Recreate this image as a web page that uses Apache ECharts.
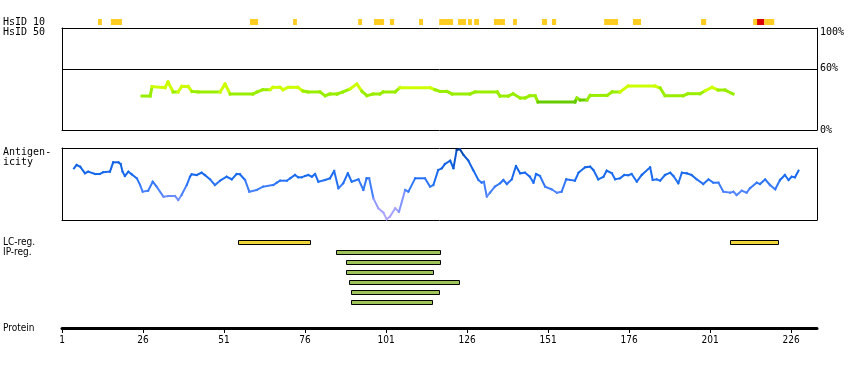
<!DOCTYPE html>
<html><head><meta charset="utf-8">
<script src="https://cdn.jsdelivr.net/npm/echarts@6/dist/echarts.min.js"></script>
<style>html,body{margin:0;padding:0;background:#fff}#c{width:850px;height:370px}</style>
</head><body><div id="c"></div>
<script>
// ---- data ----
var proteinLength = 234;
var tickValues = [1, 26, 51, 76, 101, 126, 151, 176, 201, 226];
var identityTicks = [0, 60, 100];

// HsID 10 strip: segment start / end residue, level (0 = yellow, 1 = red)
var hsidStart = [12.1, 16.1, 59.0, 72.3, 92.4, 97.3, 102.2, 111.2, 117.4, 123.2, 126.3, 128.2, 134.3, 140.2, 149.1, 152.2, 168.3, 177.2, 198.2, 214.3, 215.5, 217.7];
var hsidEnd   = [13.3, 19.5, 61.5, 73.5, 93.6, 100.4, 103.5, 112.4, 121.7, 125.7, 127.5, 129.7, 137.7, 141.4, 150.7, 153.5, 172.6, 179.7, 199.8, 215.5, 217.7, 220.8];
var hsidLevel = [0, 0, 0, 0, 0, 0, 0, 0, 0, 0, 0, 0, 0, 0, 0, 0, 0, 0, 0, 0, 1, 0];

// HsID 50 identity (%)
var identityRes = [25.7, 28.2, 28.8, 32.8, 33.7, 35.3, 36.8, 38.0, 39.9, 41.1, 43.0, 49.8, 51.3, 52.9, 59.9, 61.2, 63.0, 65.2, 66.1, 68.3, 69.2, 70.8, 73.8, 75.4, 76.9, 80.6, 82.2, 83.7, 85.9, 87.7, 89.9, 92.0, 93.6, 95.1, 97.0, 99.1, 100.1, 103.8, 105.3, 114.6, 116.1, 117.7, 119.8, 121.4, 126.9, 128.5, 135.3, 136.2, 138.7, 140.2, 142.4, 143.9, 145.4, 147.0, 147.9, 159.3, 159.9, 160.9, 163.0, 164.0, 169.2, 170.8, 173.2, 175.7, 184.0, 185.6, 187.1, 192.7, 194.2, 197.9, 199.5, 201.6, 203.5, 205.6, 208.1];
var identityVal = [33.3, 33.3, 42.5, 41.5, 47.1, 37.3, 37.3, 42.7, 42.7, 37.8, 37.3, 37.3, 45.1, 35.3, 35.3, 37.3, 39.5, 39.5, 41.8, 41.8, 39.5, 41.8, 41.8, 38.2, 37.3, 37.3, 33.6, 35.3, 35.3, 37.3, 40.2, 45.1, 37.8, 33.6, 35.3, 35.3, 37.3, 37.3, 41.5, 41.5, 39.5, 37.8, 37.8, 35.3, 35.3, 37.3, 37.3, 33.3, 33.3, 35.6, 31.4, 31.4, 33.6, 33.6, 27.5, 27.5, 31.4, 29.4, 29.4, 33.9, 33.9, 37.3, 37.3, 43.1, 43.1, 41.2, 33.6, 33.6, 35.6, 35.6, 38.5, 41.8, 39.2, 39.2, 35.3];

// Antigenicity (relative, 0-100)
var antiRes = [4.7, 5.5, 6.6, 8.1, 9.1, 11.2, 12.7, 13.7, 15.8, 16.8, 18.4, 19.1, 19.7, 20.4, 21.5, 22.5, 24.1, 25.1, 25.9, 27.6, 29.0, 30.2, 32.3, 33.8, 35.9, 36.9, 37.9, 39.5, 40.5, 41.0, 42.6, 44.1, 45.1, 46.7, 48.2, 49.8, 51.8, 53.4, 54.9, 55.9, 57.5, 58.8, 61.1, 63.1, 66.2, 67.3, 68.3, 70.4, 71.4, 72.9, 73.9, 75.0, 76.0, 77.0, 78.1, 79.1, 80.1, 82.2, 83.7, 85.0, 86.3, 87.8, 89.2, 90.4, 92.5, 94.0, 95.0, 95.8, 97.1, 98.6, 100.2, 101.2, 102.2, 103.8, 105.0, 106.9, 107.9, 110.0, 113.0, 114.6, 115.6, 117.1, 118.2, 119.2, 120.8, 121.8, 122.8, 123.8, 124.9, 126.4, 127.9, 129.5, 130.5, 131.2, 132.1, 133.1, 134.6, 136.2, 137.2, 138.3, 139.8, 141.1, 142.4, 143.9, 145.4, 146.5, 147.3, 148.5, 150.1, 152.1, 153.7, 155.2, 156.6, 157.8, 159.3, 160.4, 162.4, 164.0, 165.0, 166.5, 168.1, 169.1, 170.7, 171.7, 173.2, 174.5, 175.8, 176.8, 178.4, 179.9, 182.5, 183.3, 184.5, 185.6, 187.1, 188.7, 189.7, 191.2, 192.3, 193.8, 195.3, 196.9, 198.9, 200.5, 202.0, 203.6, 205.1, 207.2, 208.2, 209.2, 210.8, 212.3, 213.3, 215.4, 216.4, 218.0, 219.5, 221.1, 222.6, 224.1, 225.2, 226.2, 227.2, 228.3];
var antiVal = [71.8, 76.4, 74.0, 64.9, 67.1, 63.9, 63.9, 66.3, 67.1, 80.1, 80.1, 77.8, 67.1, 61.1, 67.1, 63.5, 57.9, 48.6, 39.3, 40.7, 53.2, 46.3, 32.4, 33.3, 33.3, 27.8, 34.7, 48.6, 60.1, 63.5, 62.5, 65.7, 62.5, 56.5, 48.6, 54.6, 60.1, 56.5, 63.9, 63.5, 55.6, 39.3, 41.7, 46.3, 48.6, 51.8, 54.6, 54.6, 57.9, 62.5, 59.3, 59.3, 61.1, 62.5, 60.1, 63.9, 53.2, 55.6, 57.9, 68.1, 44.0, 51.0, 64.9, 53.2, 56.5, 41.7, 57.9, 57.9, 30.1, 16.3, 10.1, 1.0, 4.6, 16.3, 11.5, 41.7, 39.3, 57.9, 57.9, 46.3, 48.6, 69.4, 71.8, 77.8, 82.4, 71.8, 97.2, 98.2, 90.3, 82.4, 69.4, 55.6, 51.8, 53.2, 32.4, 37.9, 46.3, 51.0, 55.6, 50.0, 56.5, 75.0, 64.9, 65.7, 60.1, 51.8, 63.9, 61.1, 46.3, 42.6, 37.9, 39.3, 56.5, 55.6, 54.6, 65.7, 73.2, 74.0, 69.4, 56.5, 60.1, 68.5, 64.9, 56.5, 57.9, 62.5, 62.1, 63.9, 53.2, 62.5, 73.2, 55.6, 56.5, 54.6, 62.5, 65.7, 61.1, 51.0, 65.7, 64.9, 62.5, 56.5, 50.0, 56.5, 51.8, 51.8, 39.3, 37.9, 39.3, 34.7, 40.7, 37.9, 44.0, 51.8, 50.0, 56.5, 48.6, 42.6, 55.6, 62.5, 55.6, 60.1, 59.3, 68.5];

// Regions: row (0 = LC-reg. row), start, end, type (0 = LC, 1 = IP)
var regRow   = [0, 0, 1, 2, 3, 4, 5, 6];
var regStart = [55.3, 207.3, 85.5, 88.5, 88.5, 89.5, 90.3, 90.3];
var regEnd   = [77.5, 222.1, 117.5, 117.5, 115.3, 123.3, 117.5, 115.3];
var regType  = [0, 0, 1, 1, 1, 1, 1, 1];

// ---- colour helpers (value -> colour) ----
function identityColor(v) { return v < 30 ? '#66cc00' : (v < 40 ? '#99ee00' : '#ccff00'); }
var antiStops = [[0, [180, 168, 255]], [20, [156, 156, 255]], [40, [74, 130, 255]], [60, [26, 108, 240]], [80, [16, 96, 224]], [100, [0, 62, 156]]];
function antiColor(v) {
  for (var i = 1; i < antiStops.length; i++) {
    if (v <= antiStops[i][0]) {
      var a = antiStops[i - 1], b = antiStops[i], t = (v - a[0]) / (b[0] - a[0]);
      var c = a[1].map(function (x, j) { return Math.round(x + (b[1][j] - x) * t); });
      return 'rgb(' + c.join(',') + ')';
    }
  }
  return 'rgb(0,62,156)';
}

// ---- build ----
function segs(xs, ys) {
  var out = [];
  for (var i = 0; i < xs.length - 1; i++) out.push([xs[i], ys[i], xs[i + 1], ys[i + 1]]);
  return out;
}
var hsidData = hsidStart.map(function (s, i) { return [s, hsidEnd[i], hsidLevel[i]]; });
var regData = regStart.map(function (s, i) { return [s, regEnd[i], regRow[i], regType[i]]; });

var L = 62, W = 755;
var monoFont = "'DejaVu Sans Mono', monospace";
var narrowFont = "'Liberation Sans Narrow', 'DejaVu Sans Condensed', 'Liberation Sans', sans-serif";
var off = { axisLine: { show: false }, axisTick: { show: false }, axisLabel: { show: false }, splitLine: { show: false }, splitArea: { show: false }, minorSplitLine: { show: false }, axisPointer: { show: false } };
var border = { show: true, onZero: false, lineStyle: { color: '#000', width: 1 } };
function ax(base, extra) {
  var a = {}, k;
  for (k in off) a[k] = off[k];
  for (k in base) a[k] = base[k];
  if (extra) for (k in extra) a[k] = extra[k];
  return a;
}
function xAx(idx, extra) { return ax({ type: 'value', gridIndex: idx, min: 1, max: proteinLength }, extra); }

function segRenderer(width, colorFn) {
  return function (params, api) {
    var v0 = api.value(1), v1 = api.value(3);
    var a = api.coord([api.value(0), v0]);
    var b = api.coord([api.value(2), v1]);
    return { type: 'line', shape: { x1: a[0], y1: a[1], x2: b[0], y2: b[1] },
      style: { stroke: colorFn((v0 + v1) / 2), lineWidth: width, lineCap: 'square' } };
  };
}

var chart = echarts.init(document.getElementById('c'), null, { renderer: 'canvas' });
chart.setOption({
  animation: false,
  backgroundColor: '#fff',
  tooltip: { show: false, trigger: 'none' },
  grid: [
    { left: L, width: W, top: 19, height: 6 },
    { left: L, width: W, top: 28, height: 102 },
    { left: L, width: W, top: 148, height: 72 },
    { left: L, width: W, top: 237, height: 70 },
    { left: L, width: W, top: 327, height: 1 }
  ],
  xAxis: [
    xAx(0),
    xAx(1, { position: 'bottom', axisLine: border }),
    xAx(1, { position: 'top', axisLine: border }),
    xAx(2, { position: 'bottom', axisLine: border }),
    xAx(2, { position: 'top', axisLine: border }),
    xAx(3),
    xAx(4, {
      position: 'bottom',
      axisLine: { show: true, onZero: false, lineStyle: { color: '#000', width: 3 } },
      axisTick: { show: true, length: 5, lineStyle: { color: '#000', width: 1 }, customValues: tickValues },
      axisLabel: { show: true, customValues: tickValues, color: '#000', fontFamily: narrowFont, fontSize: 10, margin: 7 }
    })
  ],
  yAxis: [
    ax({ type: 'value', gridIndex: 0, min: 0, max: 1 }),
    ax({ type: 'value', gridIndex: 1, min: 0, max: 100, position: 'right' }, {
      axisLine: border,
      axisLabel: { show: true, customValues: identityTicks, color: '#000', fontFamily: monoFont, fontSize: 10, margin: 3,
        formatter: function (v) { return v === 100 ? '{top|100%}' : v + '%'; },
        rich: { top: { fontFamily: monoFont, fontSize: 10, color: '#000', padding: [9, 0, 0, 0] } } } }),
    ax({ type: 'value', gridIndex: 1, min: 0, max: 100, position: 'left' }, { axisLine: border }),
    ax({ type: 'value', gridIndex: 2, min: 0, max: 100, position: 'left' }, { axisLine: border }),
    ax({ type: 'value', gridIndex: 2, min: 0, max: 100, position: 'right' }, { axisLine: border }),
    ax({ type: 'value', gridIndex: 3, min: -0.5, max: 6.5, inverse: true }),
    ax({ type: 'value', gridIndex: 4, min: 0, max: 1 })
  ],
  series: [
    { type: 'custom', xAxisIndex: 0, yAxisIndex: 0, data: hsidData, silent: true,
      renderItem: function (params, api) {
        var a = api.coord([api.value(0), 1]);
        var b = api.coord([api.value(1), 0]);
        return { type: 'rect', shape: { x: a[0], y: a[1], width: Math.max(b[0] - a[0], 3.5), height: b[1] - a[1] },
          style: { fill: api.value(2) === 1 ? '#dd0000' : '#ffcc22' } };
      } },
    { type: 'custom', xAxisIndex: 1, yAxisIndex: 1, data: segs(identityRes, identityVal), silent: true,
      encode: { x: [0, 2], y: [1, 3] },
      renderItem: segRenderer(3, identityColor),
      markLine: { silent: true, symbol: 'none', label: { show: false },
        lineStyle: { color: '#000', width: 1, type: 'solid' }, data: [{ yAxis: 60 }] } },
    { type: 'custom', xAxisIndex: 3, yAxisIndex: 3, data: segs(antiRes, antiVal), silent: true,
      encode: { x: [0, 2], y: [1, 3] },
      renderItem: segRenderer(2, antiColor) },
    { type: 'custom', xAxisIndex: 5, yAxisIndex: 5, data: regData, silent: true,
      renderItem: function (params, api) {
        var a = api.coord([api.value(0), api.value(2)]);
        var b = api.coord([api.value(1), api.value(2)]);
        return { type: 'rect', shape: { x: Math.round(a[0]) + 0.5, y: Math.round(a[1] - 2.5) + 0.5, width: Math.round(b[0] - a[0]), height: 4 },
          style: { fill: api.value(3) === 0 ? '#eed63a' : '#9cc45a', stroke: '#000', lineWidth: 1 } };
      } }
  ],
  graphic: [
    { type: 'text', left: 3, top: 17, style: { text: 'HsID 10', font: '10px ' + monoFont, fill: '#000' } },
    { type: 'text', left: 3, top: 27, style: { text: 'HsID 50', font: '10px ' + monoFont, fill: '#000' } },
    { type: 'text', left: 3, top: 147, style: { text: 'Antigen-\nicity', font: '10px ' + monoFont, fill: '#000', lineHeight: 10 } },
    { type: 'text', left: 3, top: 237, style: { text: 'LC-reg.', font: '10px ' + narrowFont, fill: '#000' } },
    { type: 'text', left: 3, top: 247, style: { text: 'IP-reg.', font: '10px ' + narrowFont, fill: '#000' } },
    { type: 'text', left: 3, top: 323, style: { text: 'Protein', font: '10px ' + narrowFont, fill: '#000' } }
  ]
});
</script>
</body></html>
